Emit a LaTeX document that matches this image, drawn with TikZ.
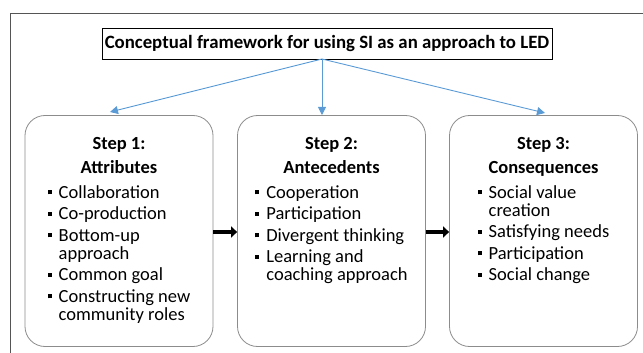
\documentclass[tikz,border=0pt]{standalone}
\usepackage{fontspec}
\setmainfont{Carlito}
\usetikzlibrary{arrows.meta}
\definecolor{arrowblue}{HTML}{5B9BD5}
\definecolor{boxgray}{HTML}{8C8C8C}
\definecolor{framegray}{HTML}{555555}
\newcommand{\bul}{\rule[4pt]{4pt}{4pt}}
\begin{document}
\begin{tikzpicture}[x=1pt,y=-1pt,
  stepbox/.style={draw=boxgray, line width=0.8pt, rounded corners=20pt, minimum width=188pt, minimum height=231pt, inner sep=0pt},
  content/.style={anchor=north, inner sep=0pt, font=\fontsize{18.5}{21.5}\selectfont},
  titlebox/.style={draw, line width=0.8pt, font=\bfseries\fontsize{18.8}{20}\selectfont, minimum width=450pt, minimum height=31pt, inner sep=0pt},
  bluearrow/.style={draw=arrowblue, line width=0.9pt, -{Triangle[width=8pt,length=8pt]}},
  flowarrow/.style={line width=4.5pt, -{Triangle[width=11pt,length=6pt]}}]
\useasboundingbox (0,0) rectangle (643,353);
\draw[line width=0.8pt, framegray] (643,13) -- (10,13) -- (10,353);
\node[titlebox] (title) at (327,43.5) {Conceptual framework for using SI as an approach to LED};
\node[stepbox] (b1) at (119,231) {};
\node[stepbox] (b2) at (331.5,231) {};
\node[stepbox] (b3) at (543.5,231) {};
\coordinate (src) at (322,59);
\draw[bluearrow] (src) -- (110,112);
\draw[bluearrow] (src) -- (322,115);
\draw[bluearrow] (src) -- (545,113);
\node[content] (t1) at ([yshift=-19pt]b1.north) {\begin{tabular}{@{}l@{\hspace{7pt}}l@{}}
\multicolumn{2}{c}{\bfseries Step 1:}\\[2.5pt]
\multicolumn{2}{c}{\bfseries Attributes}\\[3.5pt]
\bul & Collaboration\\
\bul & Co-production\\
\bul & Bottom-up\\[-3.5pt]
 & approach\\
\bul & Common goal\\
\bul & Constructing new\\[-3.5pt]
 & community roles
\end{tabular}};
\node[content] (t2) at ([yshift=-19pt]b2.north) {\begin{tabular}{@{}l@{\hspace{7pt}}l@{}}
\multicolumn{2}{c}{\bfseries Step 2:}\\[2.5pt]
\multicolumn{2}{c}{\bfseries Antecedents}\\[3.5pt]
\bul & Cooperation\\
\bul & Participation\\
\bul & Divergent thinking\\
\bul & Learning and\\[-3.5pt]
 & coaching approach
\end{tabular}};
\node[content] (t3) at ([yshift=-19pt]b3.north) {\begin{tabular}{@{}l@{\hspace{7pt}}l@{}}
\multicolumn{2}{c}{\bfseries Step 3:}\\[2.5pt]
\multicolumn{2}{c}{\bfseries Consequences}\\[3.5pt]
\bul & Social value\\[-3.5pt]
 & creation\\
\bul & Satisfying needs\\
\bul & Participation\\
\bul & Social change
\end{tabular}};
\draw[flowarrow] (b1.east |- 0,232) -- (b2.west |- 0,232);
\draw[flowarrow] (b2.east |- 0,232) -- (b3.west |- 0,232);
\end{tikzpicture}
\end{document}
